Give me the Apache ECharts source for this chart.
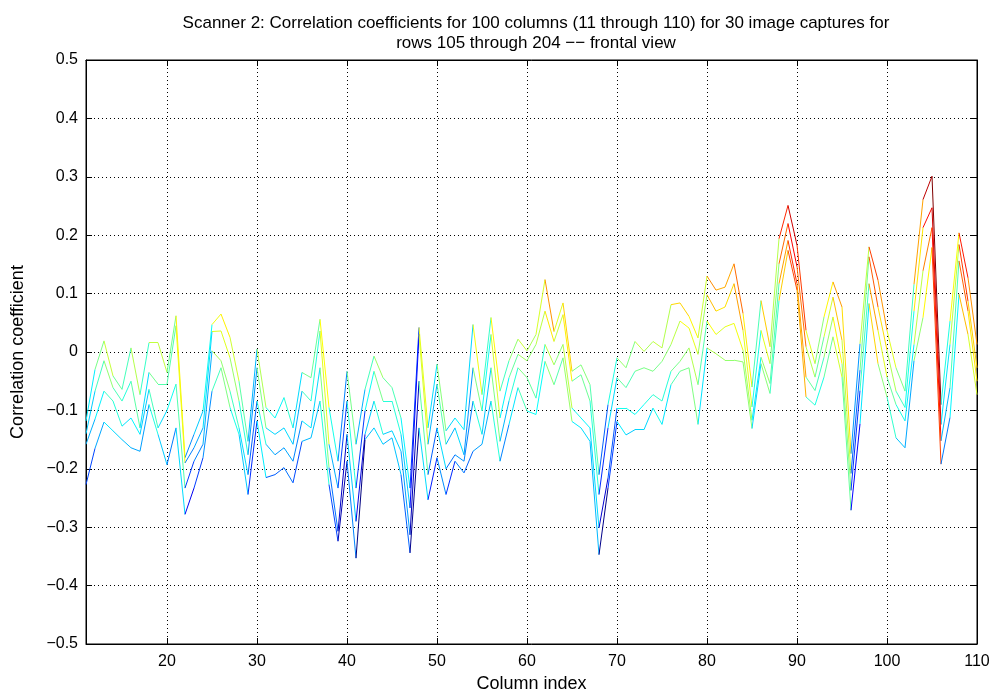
<!DOCTYPE html>
<html><head><meta charset="utf-8">
<script src="https://cdn.jsdelivr.net/npm/echarts@6/dist/echarts.min.js"></script>
<style>html,body{margin:0;padding:0;background:#fff}#c{width:998px;height:696px}</style>
</head><body><div id="c"></div><script>
const columnIndex = [11,12,13,14,15,16,17,18,19,20,21,22,23,24,25,26,27,28,29,30,31,32,33,34,35,36,37,38,39,40,41,42,43,44,45,46,47,48,49,50,51,52,53,54,55,56,57,58,59,60,61,62,63,64,65,66,67,68,69,70,71,72,73,74,75,76,77,78,79,80,81,82,83,84,85,86,87,88,89,90,91,92,93,94,95,96,97,98,99,100,101,102,103,104,105,106,107,108,109,110];

const captureA = [-0.118,-0.03,0.019,-0.041,-0.064,0.007,-0.073,0.016,0.016,-0.035,0.062,-0.181,-0.141,-0.101,0.047,0.065,0.025,-0.05,-0.153,0.005,-0.095,-0.113,-0.078,-0.13,-0.035,-0.044,0.056,-0.095,-0.187,-0.033,-0.158,-0.064,-0.007,-0.044,-0.061,-0.113,-0.233,0.042,-0.13,-0.021,-0.135,-0.113,-0.133,0.047,-0.073,0.059,-0.067,-0.015,0.022,0.002,0.03,0.124,0.035,0.084,-0.033,-0.022,-0.056,-0.21,-0.09,-0.01,-0.027,0.018,0.001,0.018,0.007,0.081,0.084,0.061,0.024,0.13,0.106,0.111,0.151,0.066,-0.06,0.088,0.009,0.194,0.251,0.183,0.037,-0.02,0.06,0.12,0.077,-0.174,0.014,0.18,0.123,0.037,-0.027,-0.067,0.116,0.261,0.301,-0.09,0.053,0.204,0.127,0.013];
const captureB = [-0.14,-0.067,-0.015,-0.061,-0.084,-0.05,-0.13,-0.035,-0.055,-0.055,0.045,-0.19,-0.164,-0.13,0.035,0.036,-0.01,-0.084,-0.176,-0.027,-0.13,-0.141,-0.13,-0.158,-0.067,-0.084,0.036,-0.158,-0.233,-0.084,-0.233,-0.101,-0.033,-0.084,-0.084,-0.141,-0.267,0.03,-0.158,-0.055,-0.158,-0.13,-0.176,-0.027,-0.101,0.03,-0.113,-0.044,-0.004,-0.015,0.013,0.07,0.018,0.064,-0.05,-0.039,-0.084,-0.244,-0.13,-0.044,-0.061,-0.033,-0.027,-0.033,-0.016,0.013,0.053,0.041,-0.004,0.098,0.07,0.077,0.117,0.037,-0.094,0.037,-0.02,0.151,0.22,0.146,0.009,-0.043,0.026,0.094,0.02,-0.208,-0.031,0.163,0.077,0.003,-0.067,-0.095,0.07,0.213,0.247,-0.124,0.013,0.184,0.087,-0.027];
const captureC = [-0.158,-0.115,-0.067,-0.084,-0.127,-0.113,-0.141,-0.064,-0.13,-0.1,-0.055,-0.233,-0.187,-0.158,0.002,-0.015,-0.067,-0.13,-0.21,-0.084,-0.158,-0.176,-0.164,-0.187,-0.118,-0.13,-0.027,-0.198,-0.307,-0.141,-0.29,-0.141,-0.084,-0.141,-0.135,-0.17,-0.313,-0.05,-0.21,-0.13,-0.2,-0.176,-0.187,-0.084,-0.141,-0.027,-0.153,-0.084,-0.027,-0.044,-0.079,0.013,-0.022,0.013,-0.096,-0.113,-0.13,-0.301,-0.216,-0.096,-0.096,-0.107,-0.09,-0.073,-0.084,-0.033,-0.016,0.007,-0.056,0.053,0.03,0.043,0.049,0.003,-0.117,-0.009,-0.054,0.117,0.191,0.117,-0.043,-0.066,-0.009,0.06,-0.02,-0.237,-0.066,0.117,0.037,-0.043,-0.09,-0.118,0.013,0.139,0.213,-0.152,-0.061,0.156,0.07,-0.05];
const captureD = [-0.227,-0.165,-0.12,-0.135,-0.15,-0.164,-0.17,-0.09,-0.141,-0.193,-0.13,-0.278,-0.233,-0.181,-0.067,-0.027,-0.095,-0.141,-0.244,-0.118,-0.215,-0.21,-0.198,-0.224,-0.153,-0.147,-0.084,-0.227,-0.324,-0.187,-0.353,-0.15,-0.13,-0.158,-0.147,-0.21,-0.344,-0.13,-0.253,-0.181,-0.244,-0.187,-0.207,-0.17,-0.158,-0.084,-0.187,-0.124,-0.061,-0.101,-0.107,-0.016,-0.056,-0.01,-0.119,-0.13,-0.153,-0.347,-0.233,-0.119,-0.142,-0.133,-0.133,-0.096,-0.124,-0.056,-0.033,-0.027,-0.124,0.007,-0.003,-0.014,-0.014,-0.017,-0.131,-0.02,-0.071,0.088,0.174,0.106,-0.077,-0.091,-0.043,0.026,-0.043,-0.271,-0.123,0.083,-0.02,-0.077,-0.147,-0.164,-0.015,0.059,0.179,-0.192,-0.112,0.099,0.03,-0.073];

const captures = [captureA, captureB, captureC, captureD];
const xTickValues = [20,30,40,50,60,70,80,90,100,110];
const yTickValues = [-0.5,-0.4,-0.3,-0.2,-0.1,0,0.1,0.2,0.3,0.4,0.5];

const FONT = '"Liberation Sans", Arial, Helvetica, sans-serif';

let vmin = Infinity, vmax = -Infinity;
captures.forEach(c => c.forEach(v => { if (v < vmin) vmin = v; if (v > vmax) vmax = v; }));

function clamp(v) { return Math.max(0, Math.min(1, v)); }
function jet(v) {
  const t = clamp((v - vmin) / (vmax - vmin));
  const r = clamp(Math.min(4 * t - 1.5, -4 * t + 4.5));
  const g = clamp(Math.min(4 * t - 0.5, -4 * t + 3.5));
  const b = clamp(Math.min(4 * t + 0.5, -4 * t + 2.5));
  return 'rgb(' + Math.round(r * 255) + ',' + Math.round(g * 255) + ',' + Math.round(b * 255) + ')';
}

const series = captures.map((cap, k) => {
  const segs = [];
  for (let i = 0; i < columnIndex.length - 1; i++) {
    segs.push({
      coords: [[columnIndex[i], cap[i]], [columnIndex[i + 1], cap[i + 1]]],
      lineStyle: { color: jet(cap[i]) }
    });
  }
  return {
    type: 'lines', name: 'capture ' + (k + 1), coordinateSystem: 'cartesian2d',
    xAxisIndex: 0, yAxisIndex: 0, data: segs, silent: true, animation: false,
    lineStyle: { width: 1, opacity: 1, curveness: 0 }, z: 3
  };
});

function yFmt(v) {
  const r = Math.round(v * 10) / 10;
  if (r === 0) return '0';
  return r.toFixed(1).replace('-', '\u2212');
}

const gridLine = { show: true, lineStyle: { color: '#000', width: 1, type: [1, 3] } };
const tickStyle = { show: true, inside: true, length: 6, lineStyle: { color: '#000' } };
const chart = echarts.init(document.getElementById('c'), null, { renderer: 'canvas' });
chart.setOption({
  animation: false,
  backgroundColor: '#fff',
  title: {
    text: 'Scanner 2: Correlation coefficients for 100 columns (11 through 110) for 30 image captures for\nrows 105 through 204 \u2212\u2212 frontal view',
    left: 531, top: 8, textAlign: 'center',
    textStyle: { fontFamily: FONT, fontSize: 17, fontWeight: 'normal', color: '#000', lineHeight: 20 }
  },
  grid: { left: 86, right: 21, top: 60, bottom: 52, show: true, borderColor: '#000', borderWidth: 1, backgroundColor: 'transparent', outerBoundsMode: 'none', containLabel: false },
  xAxis: [{
    type: 'value', min: 11, max: 110, position: 'bottom',
    name: 'Column index', nameLocation: 'middle', nameGap: 30,
    nameTextStyle: { fontFamily: FONT, fontSize: 18, color: '#000' },
    axisLine: { show: true, onZero: false, lineStyle: { color: '#000', width: 1 } },
    axisTick: Object.assign({ customValues: xTickValues }, tickStyle),
    axisLabel: { show: true, customValues: xTickValues, color: '#000', fontFamily: FONT, fontSize: 16, margin: 10 },
    splitLine: gridLine
  }, {
    type: 'value', min: 11, max: 110, position: 'top',
    axisLine: { show: true, onZero: false, lineStyle: { color: '#000', width: 1 } },
    axisTick: Object.assign({ customValues: xTickValues }, tickStyle),
    axisLabel: { show: false }, splitLine: { show: false }
  }],
  yAxis: [{
    type: 'value', min: -0.5, max: 0.5, interval: 0.1, position: 'left',
    name: 'Correlation coefficient', nameLocation: 'middle', nameGap: 59, nameRotate: 90,
    nameTextStyle: { fontFamily: FONT, fontSize: 18, color: '#000' },
    axisLine: { show: true, onZero: false, lineStyle: { color: '#000', width: 1 } },
    axisTick: tickStyle,
    axisLabel: { show: true, color: '#000', fontFamily: FONT, fontSize: 16, margin: 8, formatter: yFmt },
    splitLine: gridLine
  }, {
    type: 'value', min: -0.5, max: 0.5, interval: 0.1, position: 'right',
    axisLine: { show: true, onZero: false, lineStyle: { color: '#000', width: 1 } },
    axisTick: tickStyle,
    axisLabel: { show: false }, splitLine: { show: false }
  }],
  series: series
});
</script></body></html>
